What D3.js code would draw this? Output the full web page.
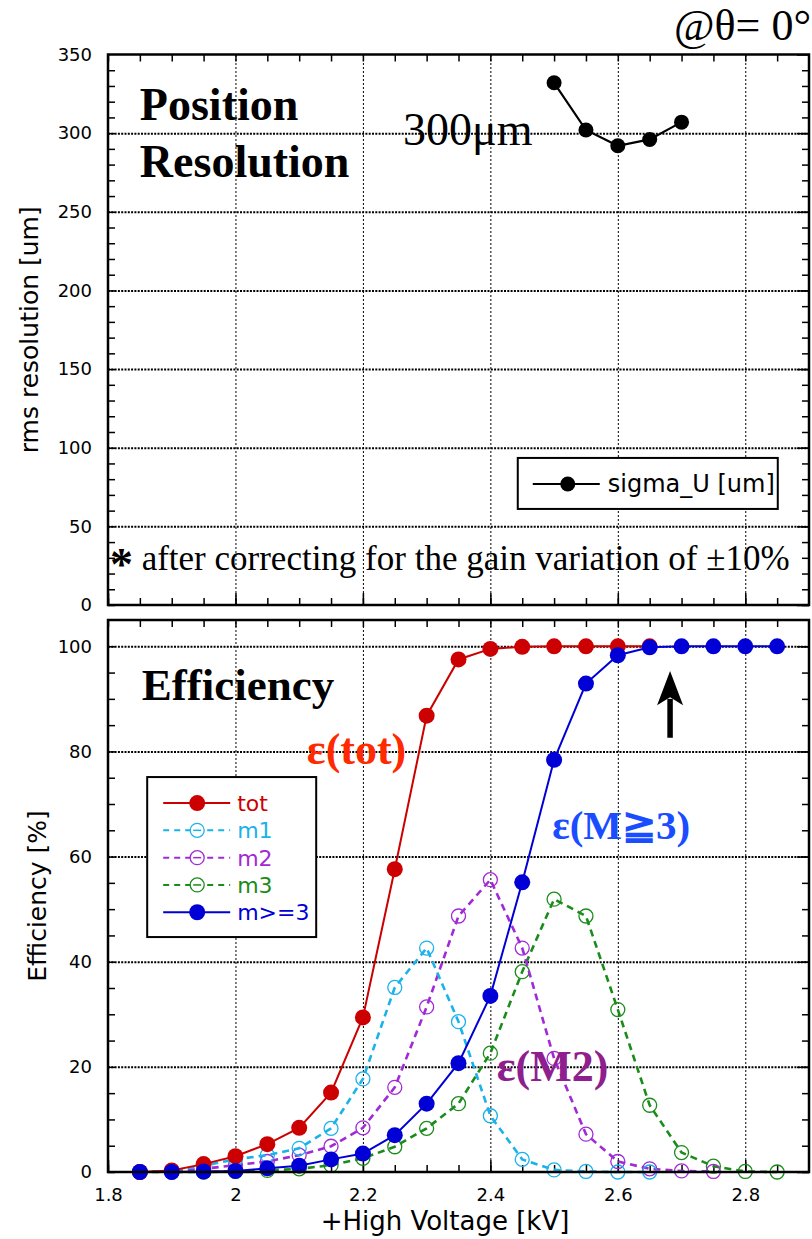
<!DOCTYPE html>
<html lang="en">
<head>
<meta charset="UTF-8" />
<title>Position Resolution and Efficiency vs High Voltage</title>
<script src="https://d3js.org/d3.v7.min.js"></script>
<style>
  body { margin: 0; background: #fff; }
  svg { display: block; }
  .tick text { font-family: "DejaVu Sans", Arial, sans-serif; font-size: 18px; fill: #000; }
  .serif { font-family: "Liberation Serif", "Times New Roman", serif; }
  .sans { font-family: "DejaVu Sans", Arial, sans-serif; }
  .grid line { stroke: #000; }
  .grid path { display: none; }
</style>
</head>
<body>
<svg width="812" height="1239"></svg>
<script>
// high voltage points [kV]
const hv = [1.85, 1.9, 1.95, 2.0, 2.05, 2.1, 2.15, 2.2, 2.25, 2.3, 2.35, 2.4, 2.45, 2.5, 2.55, 2.6, 2.65, 2.7, 2.75, 2.8, 2.85];

// efficiencies [%], one value per hv point (series stop where the data stops)
const effTot = [0, 0.3, 1.5, 3.0, 5.3, 8.4, 15.1, 29.4, 57.6, 86.8, 97.5, 99.5, 99.9, 100, 100, 100, 100];
const effM1 = [0, 0.2, 1.2, 2.4, 3.2, 4.5, 8.3, 17.7, 35.1, 42.6, 28.6, 10.7, 2.4, 0.4, 0.1, 0, 0];
const effM2 = [0, 0.1, 0.6, 1.3, 2.0, 3.2, 4.9, 8.4, 16.1, 31.4, 48.7, 55.6, 42.6, 21.6, 7.2, 2.0, 0.6, 0.2, 0.1];
const effM3 = [0, 0, 0, 0.1, 0.3, 0.6, 1.3, 2.6, 4.8, 8.3, 13.0, 22.6, 38.1, 51.9, 48.7, 30.9, 12.7, 3.7, 1.1, 0.1, 0];
const effM3up = [0, 0, 0.1, 0.2, 0.7, 1.2, 2.4, 3.5, 7.0, 13.0, 20.7, 33.5, 55.1, 78.4, 92.9, 98.3, 99.8, 100, 100, 100, 100];

// position resolution
const sigmaHv = [2.5, 2.55, 2.6, 2.65, 2.7];
const sigmaU = [332, 302, 292, 296, 307];

// tick labels
const xTicks = [1.8, 2, 2.2, 2.4, 2.6, 2.8];
const resTicks = [0, 50, 100, 150, 200, 250, 300, 350];
const effTicks = [0, 20, 40, 60, 80, 100];

const series = [
  { name: "tot", values: effTot, color: "#cc0000", dashed: false },
  { name: "m1", values: effM1, color: "#1ab2ea", dashed: true },
  { name: "m2", values: effM2, color: "#a12ad6", dashed: true },
  { name: "m3", values: effM3, color: "#1a8c1a", dashed: true },
  { name: "m>=3", values: effM3up, color: "#0000d6", dashed: false }
];

const svg = d3.select("svg");
svg.append("rect").attr("width", 812).attr("height", 1239).attr("fill", "#fff");

const x = d3.scaleLinear().domain([1.8, 2.9]).range([108, 809]);
const yRes = d3.scaleLinear().domain([0, 350]).range([605, 54.5]);
const yEff = d3.scaleLinear().domain([0, 105]).range([1172, 620]);

const fmtX = d => (d === 2 ? "2" : d3.format(".1f")(d));

function panel(y, major, minorStep, showXLabels) {
  const g = svg.append("g");
  const [x0, x1] = x.range();
  const [yb, yt] = y.range();
  const yMax = y.domain()[1];

  // horizontal grid
  g.append("g").attr("class", "grid")
    .attr("transform", `translate(${x0},0)`)
    .call(d3.axisLeft(y).tickValues(major.filter(v => v > 0 && v < yMax)).tickSize(-(x1 - x0)).tickFormat(""))
    .selectAll("line").attr("stroke-width", 2).attr("stroke-dasharray", "2,1.3");
  // vertical grid
  g.append("g").attr("class", "grid")
    .attr("transform", `translate(0,${yb})`)
    .call(d3.axisBottom(x).tickValues(xTicks.slice(1)).tickSize(-(yb - yt)).tickFormat(""))
    .selectAll("line").attr("stroke-width", 1).attr("stroke-dasharray", "2,2");

  const yMinor = d3.range(0, yMax, minorStep);
  const xMinor = d3.range(1.8, 2.9, 0.05);

  // inward ticks on all four sides
  const tickStyle = sel => { sel.select(".domain").remove(); sel.selectAll("line").attr("stroke", "#000").attr("stroke-width", 1.5); };
  g.append("g").attr("transform", `translate(${x0},0)`)
    .call(d3.axisLeft(y).tickValues(yMinor).tickSize(-7).tickFormat("")).call(tickStyle);
  g.append("g").attr("transform", `translate(${x1},0)`)
    .call(d3.axisRight(y).tickValues(yMinor).tickSize(-7).tickFormat("")).call(tickStyle);
  g.append("g").attr("transform", `translate(0,${yb})`)
    .call(d3.axisBottom(x).tickValues(xMinor).tickSize(-7).tickFormat("")).call(tickStyle);
  g.append("g").attr("transform", `translate(0,${yt})`)
    .call(d3.axisTop(x).tickValues(xMinor).tickSize(-7).tickFormat("")).call(tickStyle);
  g.append("g").attr("transform", `translate(0,${yb})`)
    .call(d3.axisBottom(x).tickValues(xTicks).tickSize(-12).tickFormat("")).call(tickStyle);
  g.append("g").attr("transform", `translate(${x1},0)`)
    .call(d3.axisRight(y).tickValues(major).tickSize(-12).tickFormat("")).call(tickStyle);

  // labels
  g.append("g").attr("transform", `translate(${x0},0)`)
    .call(d3.axisLeft(y).tickValues(major).tickSize(0).tickPadding(16).tickFormat(d3.format("d")))
    .call(s => s.select(".domain").remove());
  if (showXLabels) {
    g.append("g").attr("transform", `translate(0,${yb})`)
      .call(d3.axisBottom(x).tickValues(xTicks).tickSize(0).tickPadding(16).tickFormat(fmtX))
      .call(s => s.select(".domain").remove());
  }
  return g;
}

function frame(y) {
  const [x0, x1] = x.range();
  const [yb, yt] = y.range();
  svg.append("rect").attr("x", x0).attr("y", yt).attr("width", x1 - x0).attr("height", yb - yt)
    .attr("fill", "none").attr("stroke", "#000").attr("stroke-width", 2.5);
}

// ---------- top panel: position resolution ----------
panel(yRes, resTicks, 10, false);

const sigmaPts = sigmaHv.map((h, i) => [h, sigmaU[i]]);
svg.append("path").datum(sigmaPts)
  .attr("fill", "none").attr("stroke", "#000").attr("stroke-width", 2.2)
  .attr("d", d3.line().x(d => x(d[0])).y(d => yRes(d[1])));
svg.selectAll(".sig").data(sigmaPts).enter().append("circle")
  .attr("cx", d => x(d[0])).attr("cy", d => yRes(d[1])).attr("r", 7.5).attr("fill", "#000");

svg.append("text").attr("class", "serif").attr("x", x(1.85)).attr("y", yRes(308.3))
  .attr("font-size", 46).attr("font-weight", "bold").text("Position");
svg.append("text").attr("class", "serif").attr("x", x(1.85)).attr("y", yRes(272.1))
  .attr("font-size", 46).attr("font-weight", "bold").text("Resolution");
svg.append("text").attr("class", "serif").attr("x", x(2.263)).attr("y", yRes(292.4))
  .attr("font-size", 46).text("300μm");

// legend (top)
const lt = svg.append("g").attr("transform", `translate(${x(2.443)},${yRes(93.5)})`);
lt.append("rect").attr("width", 260).attr("height", 51).attr("fill", "#fff").attr("stroke", "#000").attr("stroke-width", 2);
lt.append("line").attr("x1", 15).attr("x2", 82).attr("y1", 26).attr("y2", 26).attr("stroke", "#000").attr("stroke-width", 2);
lt.append("circle").attr("cx", 50).attr("cy", 26).attr("r", 7.5).attr("fill", "#000");
lt.append("text").attr("class", "sans").attr("x", 90).attr("y", 34).attr("font-size", 24).text("sigma_U [um]");

svg.append("text").attr("class", "serif").attr("x", x(1.803)).attr("y", yRes(22.3))
  .attr("font-size", 35)
  .call(t => {
    t.append("tspan").attr("font-size", 46).attr("font-weight", "bold").attr("dy", 10).text("*");
    t.append("tspan").attr("dy", -10).text(" after correcting for the gain variation of ±10%");
  });

frame(yRes);

// ---------- bottom panel: efficiency ----------
panel(yEff, effTicks, 5, true);

const line = d3.line().x(d => x(d[0])).y(d => yEff(d[1]));
const drawOrder = [series[3], series[2], series[1], series[0], series[4]];
drawOrder.forEach(s => {
  const pts = s.values.map((v, i) => [hv[i], v]);
  svg.append("path").datum(pts)
    .attr("fill", "none").attr("stroke", s.color)
    .attr("stroke-width", s.dashed ? 2.6 : 2)
    .attr("stroke-dasharray", s.dashed ? "7,5" : null)
    .attr("d", line);
  svg.append("g").selectAll("circle").data(pts).enter().append("circle")
    .attr("cx", d => x(d[0])).attr("cy", d => yEff(d[1]))
    .attr("r", s.dashed ? 7 : 8)
    .attr("fill", s.dashed ? "none" : s.color)
    .attr("stroke", s.color).attr("stroke-width", s.dashed ? 1.3 : 0);
});

svg.append("text").attr("class", "serif").attr("x", x(1.853)).attr("y", yEff(89.8))
  .attr("font-size", 45).attr("font-weight", "bold").text("Efficiency");
svg.append("text").attr("class", "serif").attr("x", x(2.112)).attr("y", yEff(77.6))
  .attr("font-size", 44).attr("font-weight", "bold").attr("fill", "#ff2a00").text("ε(tot)");
svg.append("text").attr("class", "serif").attr("x", x(2.497)).attr("y", yEff(63.4))
  .attr("font-size", 41).attr("font-weight", "bold").attr("fill", "#1a4dff").text("ε(M≧3)");
svg.append("text").attr("class", "serif").attr("x", x(2.41)).attr("y", yEff(17.3))
  .attr("font-size", 44).attr("font-weight", "bold").attr("fill", "#8f1f8f").text("ε(M2)");

// arrow
const ax = x(2.682);
svg.append("line").attr("x1", ax).attr("x2", ax).attr("y1", yEff(82.6)).attr("y2", yEff(90))
  .attr("stroke", "#000").attr("stroke-width", 5.5);
svg.append("path")
  .attr("d", `M${ax},${yEff(95.3)} L${ax - 13},${yEff(88.8)} L${ax},${yEff(90.3)} L${ax + 13},${yEff(88.8)} Z`)
  .attr("fill", "#000");

// legend (bottom)
const lb = svg.append("g").attr("transform", `translate(${x(1.8615)},${yEff(104.8) + 156})`);
lb.append("rect").attr("width", 169).attr("height", 160).attr("fill", "#fff").attr("stroke", "#000").attr("stroke-width", 2);
series.forEach((s, i) => {
  const ry = 26 + i * 27.3;
  lb.append("line").attr("x1", 16).attr("x2", 83).attr("y1", ry).attr("y2", ry)
    .attr("stroke", s.color).attr("stroke-width", 2).attr("stroke-dasharray", s.dashed ? "6,5" : null);
  lb.append("circle").attr("cx", 50).attr("cy", ry).attr("r", s.dashed ? 7 : 8)
    .attr("fill", s.dashed ? "#fff" : s.color).attr("stroke", s.color).attr("stroke-width", s.dashed ? 1.3 : 0);
  if (s.dashed) {
    lb.append("line").attr("x1", 46).attr("x2", 54).attr("y1", ry).attr("y2", ry).attr("stroke", s.color).attr("stroke-width", 1.5);
  }
  lb.append("text").attr("class", "sans").attr("x", 90).attr("y", ry + 8).attr("font-size", 22)
    .attr("fill", s.color).text(s.name);
});

frame(yEff);

// axis titles and header
svg.append("text").attr("class", "sans").attr("font-size", 25).attr("text-anchor", "middle")
  .attr("transform", `translate(38,${(yRes.range()[0] + yRes.range()[1]) / 2}) rotate(-90)`)
  .text("rms resolution [um]");
svg.append("text").attr("class", "sans").attr("font-size", 25).attr("text-anchor", "middle")
  .attr("transform", `translate(46,${(yEff.range()[0] + yEff.range()[1]) / 2}) rotate(-90)`)
  .text("Efficiency [%]");
svg.append("text").attr("class", "sans").attr("font-size", 26).attr("text-anchor", "middle")
  .attr("x", 445).attr("y", 1230)
  .text("+High Voltage [kV]");
svg.append("text").attr("class", "serif").attr("font-size", 44).attr("text-anchor", "end")
  .attr("x", 811).attr("y", 40).text("@θ= 0°");
</script>
</body>
</html>
